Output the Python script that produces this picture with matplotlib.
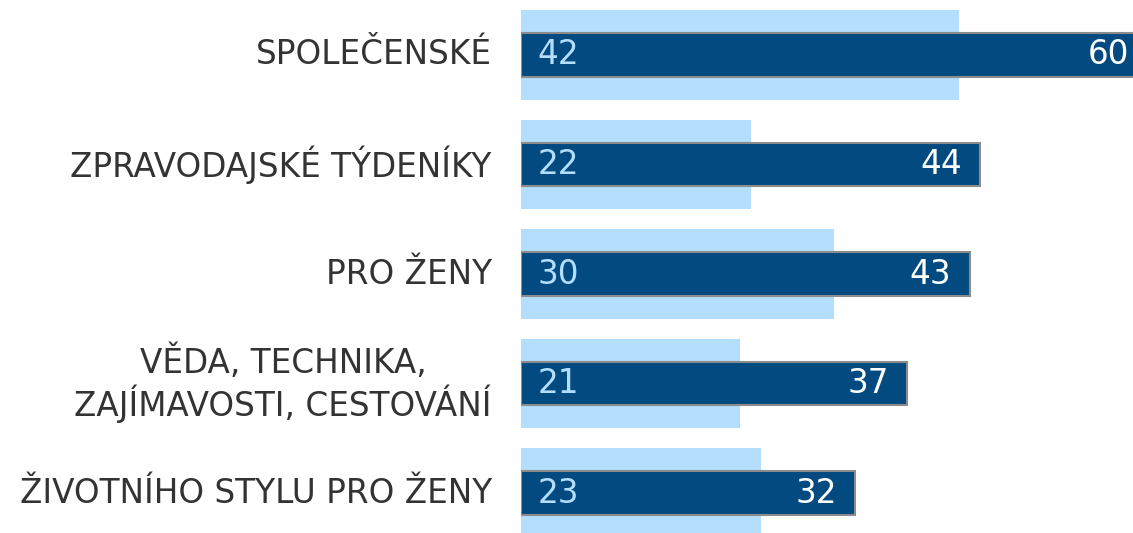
import matplotlib
matplotlib.use("Agg")
import matplotlib.pyplot as plt

categories = ["SPOLEČENSKÉ", "ZPRAVODAJSKÉ TÝDENÍKY", "PRO ŽENY",
              "VĚDA, TECHNIKA,\nZAJÍMAVOSTI, CESTOVÁNÍ", "ŽIVOTNÍHO STYLU PRO ŽENY"]
light_vals = [42, 22, 30, 21, 23]
dark_vals = [60, 44, 43, 37, 32]

light_col = "#b3defd"
dark_col = "#024a7f"

fig = plt.figure(figsize=(11.33, 5.33), dpi=100)
# axes runs past the right edge, the 60 bar is clipped like in the source
ax = fig.add_axes([521 / 1133, 0, 626 / 1133, 1])

y = list(range(len(categories)))
ax.barh(y, light_vals, height=0.82, color=light_col, zorder=1)
ax.barh(y, dark_vals, height=0.40, color=dark_col, edgecolor="#8c8c8c",
        linewidth=1.5, zorder=2)

fs = 23.5
for i in y:
    ax.text(1.6, i, str(light_vals[i]), color=light_col, fontsize=fs,
            va="center", ha="left", zorder=3)
    ax.text(dark_vals[i] - 1.75, i, str(dark_vals[i]), color="white",
            fontsize=fs, va="center", ha="right", zorder=3)
    ax.text(-2.8, i, categories[i], color="#333333", fontsize=fs,
            va="center", ha="right", multialignment="center",
            linespacing=1.15, clip_on=False)

ax.set_xlim(0, 60)
ax.set_ylim(4.365, -0.502)
ax.axis("off")

fig.savefig("out.png", dpi=100)
